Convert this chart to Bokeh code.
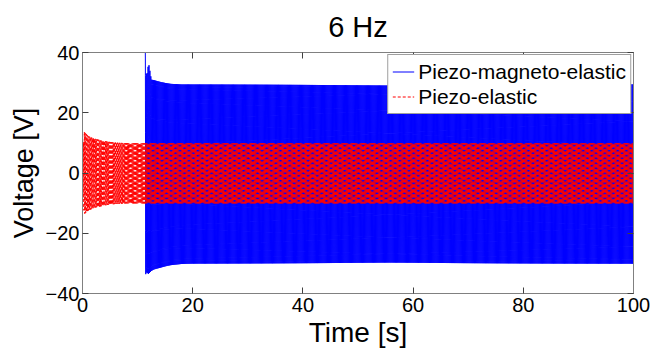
import numpy as np
from bokeh.plotting import figure
from bokeh.models import LinearAxis, Range1d, FixedTicker, Legend, LegendItem
from bokeh.embed import file_html
from bokeh.resources import INLINE

# ---- data ----
title_text = "6 Hz"
freq_hz = 6.0
x_ticks = [0, 20, 40, 60, 80, 100]
y_ticks = [-40, -20, 0, 20, 40]

# Piezo-magneto-elastic envelope (starts at ~11.4 s)
pme_env_t = [11.4, 11.6, 12.0, 12.5, 13.0, 14.0, 15.0, 16.0, 17.0, 18.0, 20.0, 100.0]
pme_env_upper = [40.0, 31.5, 36.5, 31.0, 30.8, 30.3, 29.9, 29.6, 29.5, 29.4, 29.4, 29.4]
pme_env_lower = [-34.0, -33.0, -33.5, -32.5, -32.0, -31.5, -31.0, -30.6, -30.4, -30.2, -30.1, -30.1]

# Piezo-elastic envelope
pe_env_t = [0.0, 0.3, 1.0, 2.0, 3.0, 4.0, 5.0, 6.0, 8.0, 10.0, 100.0]
pe_env_upper = [6.0, 13.7, 12.3, 11.5, 11.0, 10.6, 10.3, 10.1, 9.9, 9.9, 9.9]
pe_env_lower = [-6.0, -13.7, -12.5, -11.7, -11.2, -10.8, -10.5, -10.3, -10.1, -10.1, -10.1]

samples_per_cycle = 20


def build(env_t, up, lo):
    t0, t1 = env_t[0], env_t[-1]
    n = int((t1 - t0) * freq_hz * samples_per_cycle) + 1
    t = np.linspace(t0, t1, n)
    u = np.interp(t, env_t, up)
    l = np.interp(t, env_t, lo)
    mid = (u + l) / 2
    half = (u - l) / 2
    return t, mid + half * np.sin(2 * np.pi * freq_hz * (t - t0) + np.pi / 2)


t_pme, v_pme = build(pme_env_t, pme_env_upper, pme_env_lower)
t_pe, v_pe = build(pe_env_t, pe_env_upper, pe_env_lower)

FONT = "Liberation Sans"
BLUE = "#0000ff"
RED = "#ff0000"

p = figure(width=654, height=350, output_backend="svg", toolbar_location=None,
           x_range=Range1d(0, 100), y_range=Range1d(-40, 40),
           min_border_left=82, min_border_right=21, min_border_top=52, min_border_bottom=55)

p.title.text = title_text
p.title.align = "center"
p.title.vertical_align = "top"
p.title.text_font = FONT
p.title.text_font_size = "29px"
p.title.text_font_style = "normal"
p.title.text_color = "black"
p.title.standoff = 16

p.grid.visible = False
p.outline_line_color = "#808080"
p.outline_line_width = 1
p.background_fill_color = "white"
p.border_fill_color = "white"

for ax in (p.xaxis[0], p.yaxis[0]):
    ax.axis_line_color = "#808080"
    ax.major_tick_line_color = "#404040"
    ax.major_tick_in = 6
    ax.major_tick_out = 0
    ax.minor_tick_line_color = None
    ax.major_label_text_font = FONT
    ax.major_label_text_font_size = "20px"
    ax.major_label_text_color = "black"
    ax.axis_label_text_font = FONT
    ax.axis_label_text_font_style = "normal"
    ax.axis_label_text_color = "black"

p.xaxis.ticker = FixedTicker(ticks=x_ticks)
p.yaxis.ticker = FixedTicker(ticks=y_ticks)
p.xaxis.axis_label = "Time [s]"
p.yaxis.axis_label = "Voltage [V]"
p.xaxis.axis_label_text_font_size = "28px"
p.yaxis.axis_label_text_font_size = "27px"
p.xaxis.major_label_standoff = 4
p.yaxis.major_label_standoff = 3
p.xaxis.axis_label_standoff = 2
p.yaxis.axis_label_standoff = 4

top_ax = LinearAxis(ticker=FixedTicker(ticks=x_ticks),
                    major_label_overrides={t: "" for t in x_ticks},
                    major_label_text_color=None, major_label_text_font_size="1px",
                    axis_line_color="#808080", major_tick_line_color="#404040",
                    major_tick_in=6, major_tick_out=0, minor_tick_line_color=None,
                    major_label_standoff=0)
right_ax = LinearAxis(ticker=FixedTicker(ticks=y_ticks),
                      major_label_overrides={t: "" for t in y_ticks},
                      major_label_text_color=None, major_label_text_font_size="1px",
                      axis_line_color="#808080", major_tick_line_color="#404040",
                      major_tick_in=6, major_tick_out=0, minor_tick_line_color=None,
                      major_label_standoff=0)
p.add_layout(top_ax, "above")
p.add_layout(right_ax, "right")

p.line(t_pme, v_pme, line_color=BLUE, line_width=1)
p.line(t_pe, v_pe, line_color=RED, line_width=1, line_dash="3 2")

# legend proxies (same styles as the series)
lg1 = p.segment(x0=[np.nan], y0=[np.nan], x1=[np.nan], y1=[np.nan],
                line_color=BLUE, line_width=1)
lg2 = p.segment(x0=[np.nan], y0=[np.nan], x1=[np.nan], y1=[np.nan],
                line_color=RED, line_width=1, line_dash="3 2")

legend = Legend(items=[LegendItem(label="Piezo-magneto-elastic", renderers=[lg1]),
                       LegendItem(label="Piezo-elastic", renderers=[lg2])],
                location="top_right")
legend.margin = 2
legend.padding = 4
legend.spacing = 0
legend.label_text_font = FONT
legend.label_text_font_size = "21px"
legend.label_text_color = "black"
legend.label_height = 25
legend.glyph_height = 25
legend.glyph_width = 22
legend.label_standoff = 4
legend.border_line_color = "#404040"
legend.border_line_width = 1
legend.background_fill_alpha = 1.0
p.add_layout(legend, "center")

open("out.html", "w").write(file_html(p, INLINE))
